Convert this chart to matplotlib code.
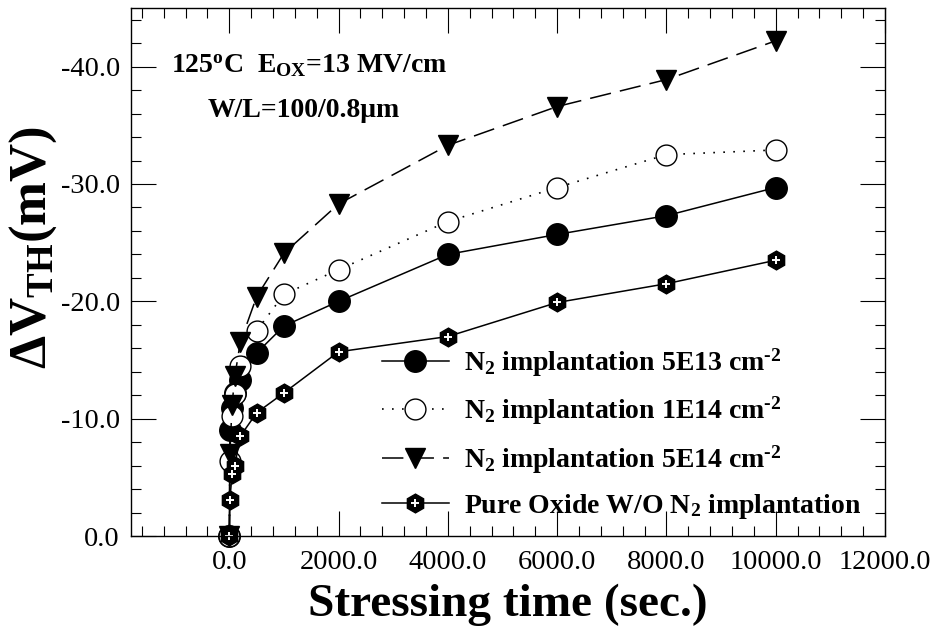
import numpy as np
import matplotlib
matplotlib.use('Agg')
import matplotlib.pyplot as plt
from matplotlib.ticker import MultipleLocator, FormatStrFormatter

plt.rcParams.update({
    'font.family': 'Liberation Serif',
    'mathtext.default': 'regular',
    'axes.unicode_minus': False,
    'axes.linewidth': 1.0,
})

# stressing time (sec.)
time = [0, 10, 50, 100, 200, 500, 1000, 2000, 4000, 6000, 8000, 10000]
# threshold voltage shift (mV)
dvth_5e13 = [0, -9.0, -10.9, -12.2, -13.3, -15.6, -17.9, -20.0, -24.0, -25.7, -27.3, -29.7]
dvth_1e14 = [0, -6.4, -10.2, -12.1, -14.5, -17.5, -20.6, -22.7, -26.8, -29.7, -32.5, -32.9]
dvth_5e14 = [0, -7.0, -11.2, -13.6, -16.5, -20.4, -24.1, -28.3, -33.3, -36.6, -38.9, -42.2]
dvth_pure = [0, -3.1, -5.3, -6.0, -8.5, -10.5, -12.2, -15.7, -17.0, -19.9, -21.5, -23.5]

labels = ['N$_2$ implantation 5E13 cm$^{\u20102}$',
          'N$_2$ implantation 1E14 cm$^{\u20102}$',
          'N$_2$ implantation 5E14 cm$^{\u20102}$',
          'Pure Oxide W/O N$_2$ implantation']

fig = plt.figure(figsize=(9.37, 6.43), dpi=100)
ax = fig.add_axes([0.1398, 0.1664, 0.8047, 0.8212])

lw = 1.1
h1, = ax.plot(time, dvth_5e13, color='k', lw=lw, ls='-', marker='o', ms=15.5,
              mfc='k', mec='k', clip_on=False)
h2, = ax.plot(time, dvth_1e14, color='k', lw=1.2, ls=(0, (1, 5)), marker='o', ms=15,
              mfc='white', mec='k', mew=1.0, clip_on=False)
h3, = ax.plot(time, dvth_5e14, color='k', lw=lw, ls=(0, (14, 6)), marker='v', ms=15,
              mfc='k', mec='k', clip_on=False)
h4, = ax.plot(time, dvth_pure, color='k', lw=lw, ls='-', marker='h', ms=13.5,
              mfc='k', mec='k', clip_on=False)
h4p, = ax.plot(time, dvth_pure, ls='none', marker='+', ms=6, mew=1.4,
               color='white', clip_on=False)

ax.set_xlim(-1800, 12000)
ax.set_ylim(0, -45)
ax.xaxis.set_major_locator(MultipleLocator(2000))
ax.xaxis.set_minor_locator(MultipleLocator(400))
ax.yaxis.set_major_locator(MultipleLocator(10))
ax.yaxis.set_minor_locator(MultipleLocator(2))
ax.xaxis.set_major_formatter(FormatStrFormatter('%.1f'))
ax.yaxis.set_major_formatter(FormatStrFormatter('%.1f'))
ax.tick_params(which='both', direction='in', top=True, right=True, labelsize=20.5)
ax.tick_params(which='major', length=18, width=0.8)
ax.tick_params(which='minor', length=7.5, width=0.8)
ax.tick_params(axis='x', pad=10)
ax.tick_params(axis='y', pad=8)

ax.set_xlabel('Stressing time (sec.)', fontsize=34, fontweight='bold')
ax.xaxis.set_label_coords(0.5, -0.091)
ax.set_ylabel('ΔV$_{TH}$(mV)', fontsize=38, fontweight='bold')
ax.yaxis.set_label_coords(-0.095, 0.547)

ax.text(0.053, 0.876, '125$^{o}$C  E$_{OX}$=13 MV/cm', transform=ax.transAxes,
        fontsize=20, fontweight='bold', ha='left', va='baseline')
ax.text(0.102, 0.7936, 'W/L=100/0.8μm', transform=ax.transAxes,
        fontsize=20, fontweight='bold', ha='left', va='baseline')

ax.legend([h1, h2, h3, (h4, h4p)], labels, loc='upper left',
          bbox_to_anchor=(0.3143, 0.385), frameon=False, borderpad=0,
          handlelength=2.4, handletextpad=0.55, labelspacing=0.57,
          prop={'weight': 'bold', 'size': 20})

fig.savefig('out.png', dpi=100)
